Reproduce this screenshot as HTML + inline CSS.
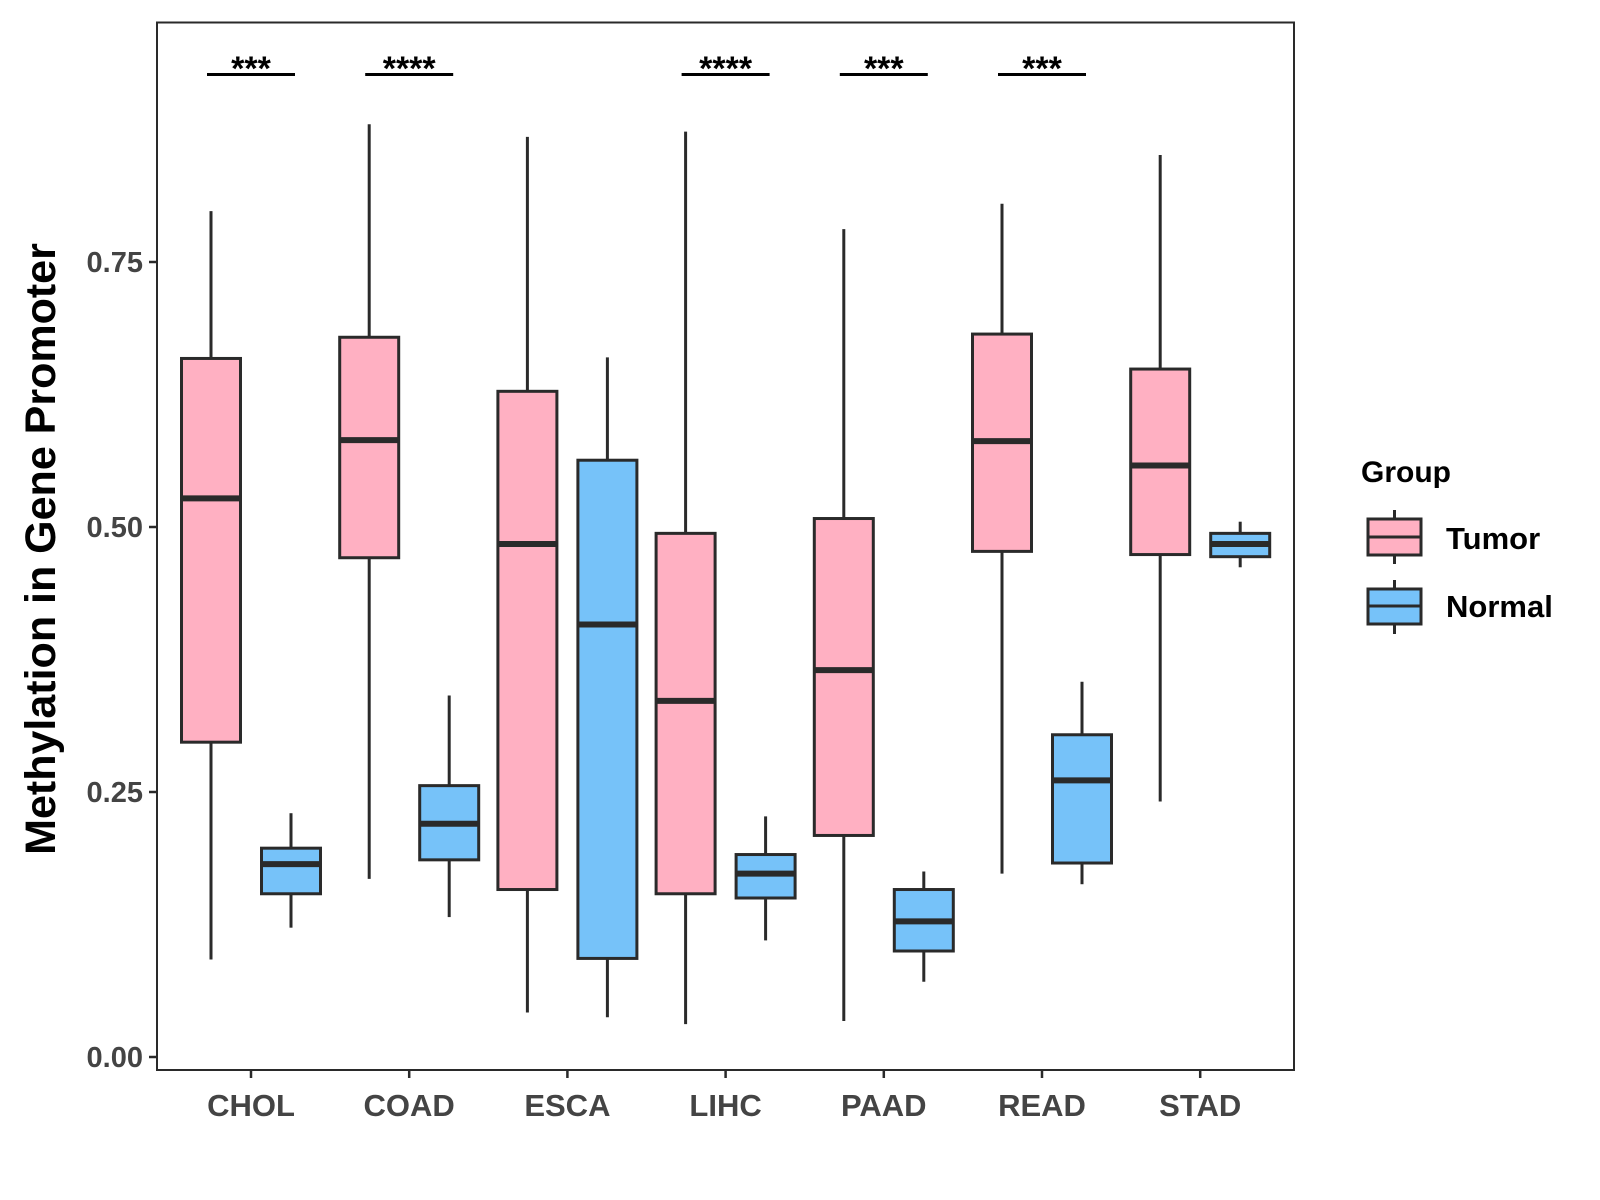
<!DOCTYPE html>
<html><head><meta charset="utf-8"><style>
body{margin:0;background:#fff;}
svg{display:block;font-family:"Liberation Sans",Arial,sans-serif;font-weight:bold;}
</style></head><body>
<svg id="chart" width="1600" height="1200"></svg>
<script>
const categories=["CHOL","COAD","ESCA","LIHC","PAAD","READ","STAD"];
// [whiskerLow, Q1, median, Q3, whiskerHigh]
const tumorStats=[[0.092,0.297,0.527,0.659,0.798],[0.168,0.471,0.582,0.679,0.880],[0.042,0.158,0.484,0.628,0.868],[0.031,0.154,0.336,0.494,0.873],[0.034,0.209,0.365,0.508,0.781],[0.173,0.477,0.581,0.682,0.805],[0.241,0.474,0.558,0.649,0.851]];
const normalStats=[[0.122,0.154,0.182,0.197,0.230],[0.132,0.186,0.220,0.256,0.341],[0.0375,0.093,0.408,0.563,0.660],[0.110,0.150,0.173,0.191,0.227],[0.071,0.100,0.128,0.158,0.175],[0.163,0.183,0.261,0.304,0.354],[0.462,0.472,0.484,0.494,0.505]];
const sigLabels=["***","****","","****","***","***",""];
const yTicks=[0,0.25,0.5,0.75];
const yTickLabels=["0.00","0.25","0.50","0.75"];

const NS="http://www.w3.org/2000/svg";
const svg=document.getElementById('chart');
const L=157,T=22.5,R=1294,B=1070;
const y=v=>1057-1060*v;
const x=i=>251+158.2*i;
function mk(tag,attrs,parent){const e=document.createElementNS(NS,tag);for(const k in attrs)e.setAttribute(k,attrs[k]);(parent||svg).appendChild(e);return e;}
const COL="#2a2a2a";
yTicks.forEach((t,i)=>{
  const l=mk('line',{x1:L-8,x2:L,y1:y(t),y2:y(t),stroke:COL,'stroke-width':2.5});
  
  
  const tx=mk('text',{x:L-14,y:y(t)+10,'text-anchor':'end','font-size':29,fill:'#444'});
  tx.textContent=yTickLabels[i];
  
  
});
categories.forEach((c,i)=>{
  const l=mk('line',{x1:x(i),x2:x(i),y1:B,y2:B+8,stroke:COL,'stroke-width':2.5});
  
  
  const tx=mk('text',{x:x(i),y:1116,'text-anchor':'middle','font-size':31,fill:'#444'});
  tx.textContent=c;
  
  
});
function box(cx,s,fill,name){
  const g=mk('g',{});
  
  
  const w=59;
  mk('line',{x1:cx,x2:cx,y1:y(s[0]),y2:y(s[1]),stroke:COL,'stroke-width':3},g);
  mk('line',{x1:cx,x2:cx,y1:y(s[3]),y2:y(s[4]),stroke:COL,'stroke-width':3},g);
  mk('rect',{x:cx-w/2,y:y(s[3]),width:w,height:y(s[1])-y(s[3]),fill:fill,stroke:COL,'stroke-width':3},g);
  mk('line',{x1:cx-w/2,x2:cx+w/2,y1:y(s[2]),y2:y(s[2]),stroke:COL,'stroke-width':6},g);
}
categories.forEach((c,i)=>{
  box(x(i)-40,tumorStats[i],'#FFB0C2','tumor-box-'+c.toLowerCase());
  box(x(i)+40,normalStats[i],'#76C2F9','normal-box-'+c.toLowerCase());
  if(sigLabels[i]){
    const l=mk('line',{x1:x(i)-44,x2:x(i)+44,y1:74.5,y2:74.5,stroke:'#000','stroke-width':3});
    
    
    const t=mk('text',{x:x(i),y:80,'text-anchor':'middle','font-size':34,fill:'#000'});
    t.textContent=sigLabels[i];
    
    
  }
});
const fr=mk('rect',{x:L,y:T,width:R-L,height:B-T,fill:'none',stroke:COL,'stroke-width':2});


</script>
<svg style="position:absolute;left:0;top:0" width="1600" height="1200">
<text transform="translate(55,549) rotate(-90)" text-anchor="middle" font-size="43" fill="#000">Methylation in Gene Promoter</text>
<text x="1361" y="482" font-size="30" fill="#000">Group</text>
<g>
<line x1="1394.5" x2="1394.5" y1="510" y2="564" stroke="#2a2a2a" stroke-width="3"/>
<rect x="1368" y="519" width="53" height="36" fill="#FFB0C2" stroke="#2a2a2a" stroke-width="3"/>
<line x1="1368" x2="1421" y1="537" y2="537" stroke="#2a2a2a" stroke-width="3"/>
<text x="1446" y="549" font-size="31" fill="#000">Tumor</text></g>
<g>
<line x1="1394.5" x2="1394.5" y1="580" y2="634" stroke="#2a2a2a" stroke-width="3"/>
<rect x="1368" y="589" width="53" height="35" fill="#76C2F9" stroke="#2a2a2a" stroke-width="3"/>
<line x1="1368" x2="1421" y1="606" y2="606" stroke="#2a2a2a" stroke-width="3"/>
<text x="1446" y="617" font-size="31" fill="#000">Normal</text></g>
</svg>
</body></html>
